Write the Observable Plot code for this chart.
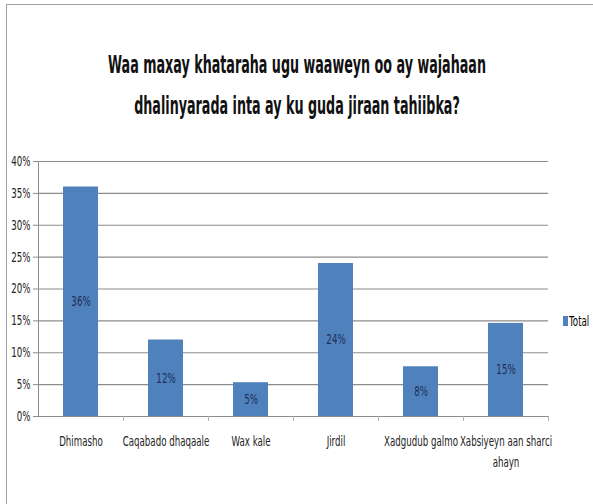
<!DOCTYPE html>
<html><head><meta charset="utf-8">
<script src="https://cdn.jsdelivr.net/npm/d3@7"></script>
<script src="https://cdn.jsdelivr.net/npm/@observablehq/plot@0.6"></script>
<style>
body{margin:0;background:#fff;}
#wrap{position:relative;width:593px;height:504px;overflow:hidden;font-family:"DejaVu Sans",sans-serif;}
#frame{position:absolute;left:6px;top:4px;width:600px;height:520px;border-left:1px solid #a0a0a0;border-top:1px solid #a0a0a0;}
#title{position:absolute;left:-203px;top:45px;width:1000px;text-align:center;font-size:24px;font-weight:bold;line-height:41px;color:#111;transform:scaleX(0.53);transform-origin:500px 0;white-space:nowrap;}
#chart{position:absolute;left:0;top:139px;}
#legend{position:absolute;left:563px;top:313px;font-size:14px;color:#000;display:flex;align-items:center;}
#legend span.sw{display:inline-block;width:5px;height:10px;background:#4F81BD;margin-right:1px;}
#legend span.tx{display:inline-block;transform:scaleX(0.62);transform-origin:0 0;}
</style></head>
<body>
<div id="wrap">
<div id="frame"></div>
<div id="title">Waa maxay khataraha ugu waaweyn oo ay wajahaan<br>dhalinyarada inta ay ku guda jiraan tahiibka?</div>
<div id="chart"></div>
<div id="legend"><span class="sw"></span><span class="tx">Total</span></div>
</div>
<script>
const categories = ["Dhimasho","Caqabado dhaqaale","Wax kale","Jirdil","Xadgudub galmo","Xabsiyeyn aan sharci\nahayn"];
const values = [0.36, 0.12, 0.053, 0.24, 0.078, 0.146];
const yTicks = [0,0.05,0.10,0.15,0.20,0.25,0.30,0.35,0.40];

const data = categories.map((c,i)=>({cat:c, v:values[i]}));
const W = 593, mL = 38, mR = 45;
const step = (W - mL - mR) / categories.length;

const plot = Plot.plot({
  width: W, height: 350,
  marginLeft: mL, marginRight: mR, marginTop: 22, marginBottom: 73,
  style: {fontFamily: "DejaVu Sans, sans-serif", fontSize: "14px", color: "#000", background: "transparent"},
  x: {domain: categories, paddingInner: 0.59, paddingOuter: 0.295, label: null},
  y: {domain: [0, 0.40], label: null},
  marks: [
    Plot.gridY(yTicks, {stroke: "#8c8c8c", strokeOpacity: 1, strokeWidth: 1.2}),
    Plot.axisY({ticks: yTicks, tickFormat: d3.format(".0%"), tickSize: 5, tickPadding: 3, stroke: "#8c8c8c", strokeOpacity: 1, label: null, fontSize: 14, fill: "#222"}),
    Plot.frame({anchor: "left", stroke: "#8c8c8c"}),
    Plot.barY(data, {x: "cat", y: "v", fill: "#4F81BD"}),
    Plot.ruleY([0], {stroke: "#8c8c8c", strokeWidth: 1.2}),
    Plot.ruleX(categories, {x: d=>d, dx: step/2, y1: 0, y2: 0, insetBottom: -5, stroke: "#b0b0b0"}),
    Plot.axisX({tickSize: 0, tickPadding: 15, label: null, fontSize: 14, lineHeight: 1.5, fill: "#222"}),
    Plot.text(data, {x: "cat", y: d=>d.v/2, text: d=>Math.round(d.v*100)+"%", fill: "#1F2F55", fontSize: 14})
  ]
});
// narrow the text horizontally to mimic a condensed face
d3.select(plot).selectAll("text").each(function(){
  const t = this.getAttribute("transform") || "";
  this.setAttribute("transform", (t + " scale(0.62,1)").trim());
});
document.getElementById("chart").appendChild(plot);
</script>
</body></html>
